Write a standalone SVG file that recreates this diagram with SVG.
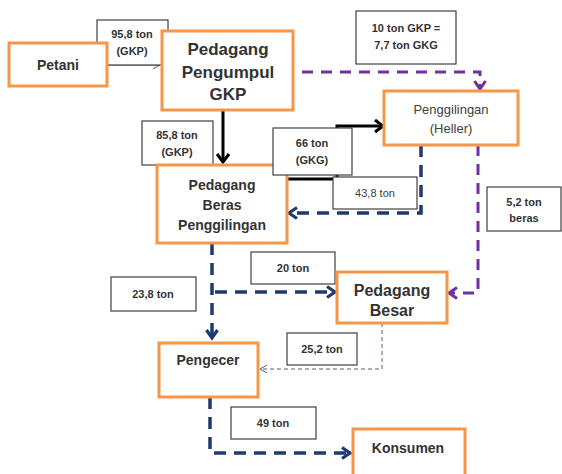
<svg xmlns="http://www.w3.org/2000/svg" width="562" height="474" viewBox="0 0 562 474">
<style>
.node{fill:#fff;stroke:#f79646;stroke-width:3}
.lbl{fill:#fff;stroke:#404040;stroke-width:1.2}
text{font-family:"Liberation Sans",Arial,sans-serif;fill:#333;text-anchor:middle}
.nb{font-weight:bold;font-size:15px}
.nr{font-size:13px;fill:#404040}
.lb{font-weight:bold;font-size:11px}
.lr{font-size:11px;fill:#404040}
.navy{fill:none;stroke:#1f3a6e;stroke-width:3.5;stroke-dasharray:12 8}
.purple{fill:none;stroke:#7030a0;stroke-width:3;stroke-dasharray:11 8}
.black{fill:none;stroke:#000;stroke-width:3}
</style>
<defs>
<marker id="aNavy" markerWidth="14" markerHeight="14" refX="10" refY="7" orient="auto" markerUnits="userSpaceOnUse"><path d="M2,1.5 L10,7 L2,12.5" fill="none" stroke="#1f3a6e" stroke-width="3.2"/></marker>
<marker id="aPurple" markerWidth="14" markerHeight="14" refX="10" refY="7" orient="auto" markerUnits="userSpaceOnUse"><path d="M2,1.5 L10,7 L2,12.5" fill="none" stroke="#7030a0" stroke-width="3"/></marker>
<marker id="aBlack" markerWidth="12" markerHeight="14" refX="10" refY="7" orient="auto" markerUnits="userSpaceOnUse"><path d="M2,1 L10,7 L2,13" fill="none" stroke="#000" stroke-width="3"/></marker>
<marker id="aThin" markerWidth="10" markerHeight="10" refX="8" refY="5" orient="auto" markerUnits="userSpaceOnUse"><path d="M1,1 L8,5 L1,9" fill="none" stroke="#4a5f8c" stroke-width="1"/></marker>
</defs>

<g id="connectors">
<path d="M107,65 H160" fill="none" stroke="#4a5f8c" stroke-width="1" marker-end="url(#aThin)"/>
<path class="purple" d="M302,72 H480 V89" marker-end="url(#aPurple)"/>
<path class="black" d="M223,110 V162" marker-end="url(#aBlack)"/>
<path class="black" d="M287,179 H337 V126 H383" marker-end="url(#aBlack)"/>
<path class="navy" d="M421,145 V213 H289" marker-end="url(#aNavy)"/>
<path class="purple" d="M478,145 V293 H449" marker-end="url(#aPurple)"/>
<path class="navy" d="M212,243 V338" marker-end="url(#aNavy)"/>
<path class="navy" d="M215,292 H335" marker-end="url(#aNavy)"/>
<path d="M382,323 V369 H260" fill="none" stroke="#4a5f8c" stroke-width="1" stroke-dasharray="4 3" marker-end="url(#aThin)"/>
<path class="navy" d="M210,397 V453 H350" marker-end="url(#aNavy)"/>
</g>

<g id="label-95"><rect class="lbl" x="97" y="20" width="71" height="45"/><text class="lb" x="132" y="38">95,8 ton</text><text class="lb" x="132" y="55">(GKP)</text></g>

<g id="petani"><rect class="node" x="9" y="43" width="98" height="43"/><text class="nb" x="58" y="70" style="font-size:14px">Petani</text></g>
<g id="pengumpul"><rect class="node" x="162" y="31" width="131" height="79"/><text class="nb" x="228" y="55" style="font-size:17px">Pedagang</text><text class="nb" x="228" y="78" style="font-size:17px">Pengumpul</text><text class="nb" x="228" y="100" style="font-size:17px">GKP</text></g>

<g id="label-10"><rect class="lbl" x="356" y="11" width="100" height="53"/><text class="lb" x="406" y="32">10 ton GKP =</text><text class="lb" x="406" y="49">7,7 ton GKG</text></g>

<g id="penggilingan"><rect class="node" x="384" y="91" width="134" height="54"/><text class="nr" x="451" y="114">Penggilingan</text><text class="nr" x="451" y="133">(Heller)</text></g>

<g id="label-85"><rect class="lbl" x="142" y="121" width="71" height="44"/><text class="lb" x="177" y="139">85,8 ton</text><text class="lb" x="177" y="156">(GKP)</text></g>

<g id="beras"><rect class="node" x="157" y="165" width="130" height="78"/><text class="nb" x="222" y="190" style="font-size:14px">Pedagang</text><text class="nb" x="222" y="210" style="font-size:14px">Beras</text><text class="nb" x="222" y="230" style="font-size:14px">Penggilingan</text></g>

<g id="label-66"><rect class="lbl" x="273" y="128" width="79" height="47"/><text class="lb" x="312" y="147">66 ton</text><text class="lb" x="312" y="164">(GKG)</text></g>
<g id="label-43"><rect class="lbl" x="333" y="177" width="84" height="32"/><text class="lr" x="375" y="197">43,8 ton</text></g>
<g id="label-52"><rect class="lbl" x="487" y="187" width="74" height="44"/><text class="lb" x="524" y="206">5,2 ton</text><text class="lb" x="524" y="222">beras</text></g>

<g id="label-20"><rect class="lbl" x="251" y="252" width="84" height="32"/><text class="lb" x="293" y="272">20 ton</text></g>
<g id="label-23"><rect class="lbl" x="111" y="277" width="85" height="34"/><text class="lb" x="153" y="298">23,8 ton</text></g>

<g id="besar"><rect class="node" x="337" y="272" width="110" height="51"/><text class="nb" x="392" y="296" style="font-size:16px">Pedagang</text><text class="nb" x="392" y="316" style="font-size:16px">Besar</text></g>

<g id="label-25"><rect class="lbl" x="287" y="333" width="70" height="32"/><text class="lb" x="322" y="353">25,2 ton</text></g>

<g id="pengecer"><rect class="node" x="159" y="343" width="99" height="54"/><text class="nb" x="208" y="365" style="font-size:14px">Pengecer</text></g>

<g id="label-49"><rect class="lbl" x="231" y="407" width="85" height="32"/><text class="lb" x="273" y="427">49 ton</text></g>

<g id="konsumen"><rect class="node" x="353" y="429" width="112" height="50"/><text class="nb" x="408" y="453" style="font-size:14px">Konsumen</text></g>
</svg>
